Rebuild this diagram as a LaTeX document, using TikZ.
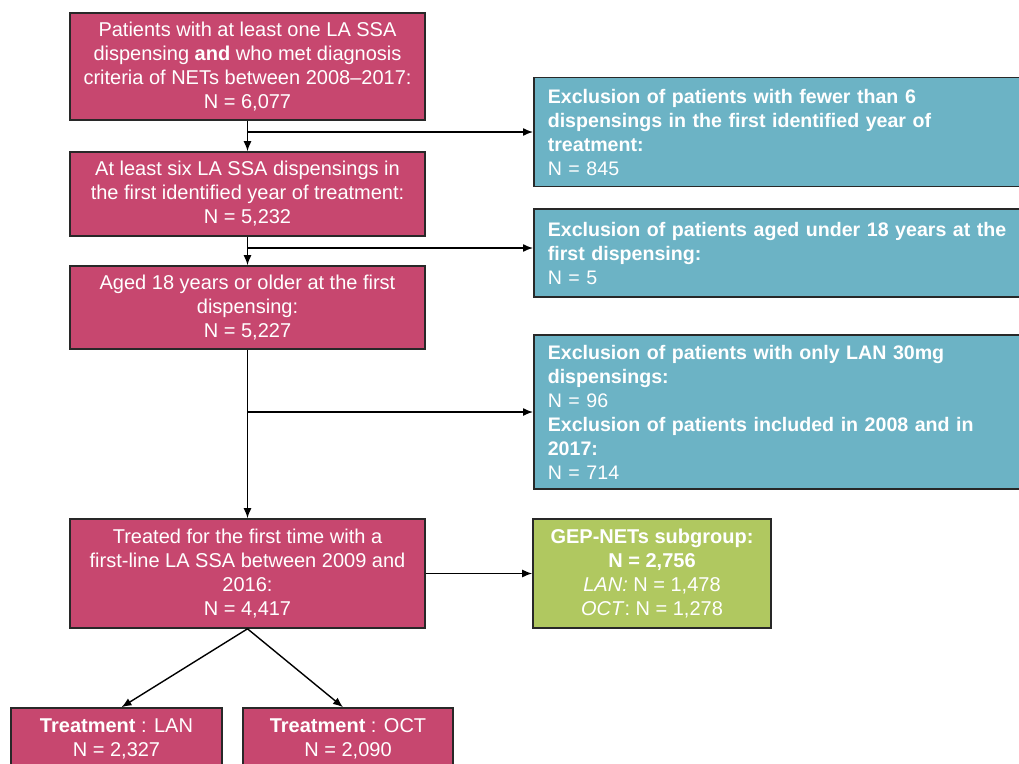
\documentclass[tikz,border=0pt]{standalone}
\usepackage{fontspec}
\setmainfont{Liberation Sans}
\usetikzlibrary{arrows.meta}
\definecolor{pinkc}{RGB}{199,71,111}
\definecolor{bluec}{RGB}{108,179,197}
\definecolor{greenc}{RGB}{176,200,96}
\definecolor{edgec}{RGB}{40,40,40}
\begin{document}
\begin{tikzpicture}[x=1pt,y=-1pt,
  box/.style={draw=edgec, line width=1.6pt, text=white, font=\fontsize{20}{24}\selectfont, inner sep=0pt},
  pinkbox/.style={box, fill=pinkc, align=center, minimum width=355pt},
  bluebox/.style={box, fill=bluec, align=left, text width=472pt, inner xsep=14pt, anchor=west, font=\fontsize{19.6}{24}\selectfont},
  greenbox/.style={box, fill=greenc, align=center, minimum width=238pt},
  arr/.style={-{Latex[length=10pt,width=8pt]}, line width=1.4pt, black},
  ln/.style={line width=1.4pt, black}]
\useasboundingbox (0,0) rectangle (1019,763);
\clip (0,0) rectangle (1019,763);
\fill[white] (0,0) rectangle (1019,763);
% main column
\node[pinkbox, minimum height=107pt] (b1) at (247.5,66.5)
  {Patients with at least one LA SSA\\dispensing \textbf{and} who met diagnosis\\criteria of NETs between 2008--2017:\\N = 6,077};
\node[pinkbox, minimum height=84pt] (b2) at (247.5,194)
  {At least six LA SSA dispensings in\\the first identified year of treatment:\\N = 5,232};
\node[pinkbox, minimum height=83pt] (b3) at (247.5,307.5)
  {Aged 18 years or older at the first\\dispensing:\\N = 5,227};
\node[pinkbox, minimum height=109pt] (b4) at (247.5,573.5)
  {Treated for the first time with a\\first-line LA SSA between 2009 and\\2016:\\N = 4,417};
\node[box, fill=pinkc, align=center, minimum width=211pt, minimum height=62pt] (lan) at (116.5,739)
  {\textbf{Treatment} : LAN\\N = 2,327};
\node[box, fill=pinkc, align=center, minimum width=210pt, minimum height=62pt] (oct) at (348,739)
  {\textbf{Treatment} : OCT\\N = 2,090};
% exclusion boxes
\node[bluebox, minimum height=109pt] (e1) at (533,132)
  {\textbf{Exclusion of patients with fewer than 6}\\\textbf{dispensings in the first identified year of}\\\textbf{treatment:}\\N = 845};
\node[bluebox, minimum height=88pt] (e2) at (533,253)
  {\textbf{Exclusion of patients aged under 18 years at the}\\\textbf{first dispensing:}\\N = 5};
\node[bluebox, minimum height=154pt] (e3) at (533,412)
  {\textbf{Exclusion of patients with only LAN 30mg}\\\textbf{dispensings:}\\N = 96\\\textbf{Exclusion of patients included in 2008 and in}\\\textbf{2017:}\\N = 714};
\node[greenbox, minimum height=109pt] (g) at (652,573.5)
  {\textbf{GEP-NETs subgroup:}\\\textbf{N = 2,756}\\\textit{LAN:} N = 1,478\\\textit{OCT}: N = 1,278};
% connectors
\coordinate (j1) at (b1.south |- e1.west);
\coordinate (j2) at (247.5,248);
\coordinate (j3) at (b3.south |- e3.west);
\draw[ln] (b1.south) -- (j1);
\draw[arr] (j1) -- (b2.north);
\draw[arr] (j1) -- (e1.west);
\draw[ln] (b2.south) -- (j2);
\draw[arr] (j2) -- (b3.north);
\draw[arr] (j2) -- (j2 -| e2.west);
\draw[ln] (b3.south) -- (j3);
\draw[arr] (j3) -- (b4.north);
\draw[arr] (j3) -- (e3.west);
\draw[arr] (b4.east) -- (g.west);
\draw[arr] (b4.south) -- ([xshift=5pt]lan.north);
\draw[arr] (b4.south) -- ([xshift=-5pt]oct.north);
\end{tikzpicture}
\end{document}
